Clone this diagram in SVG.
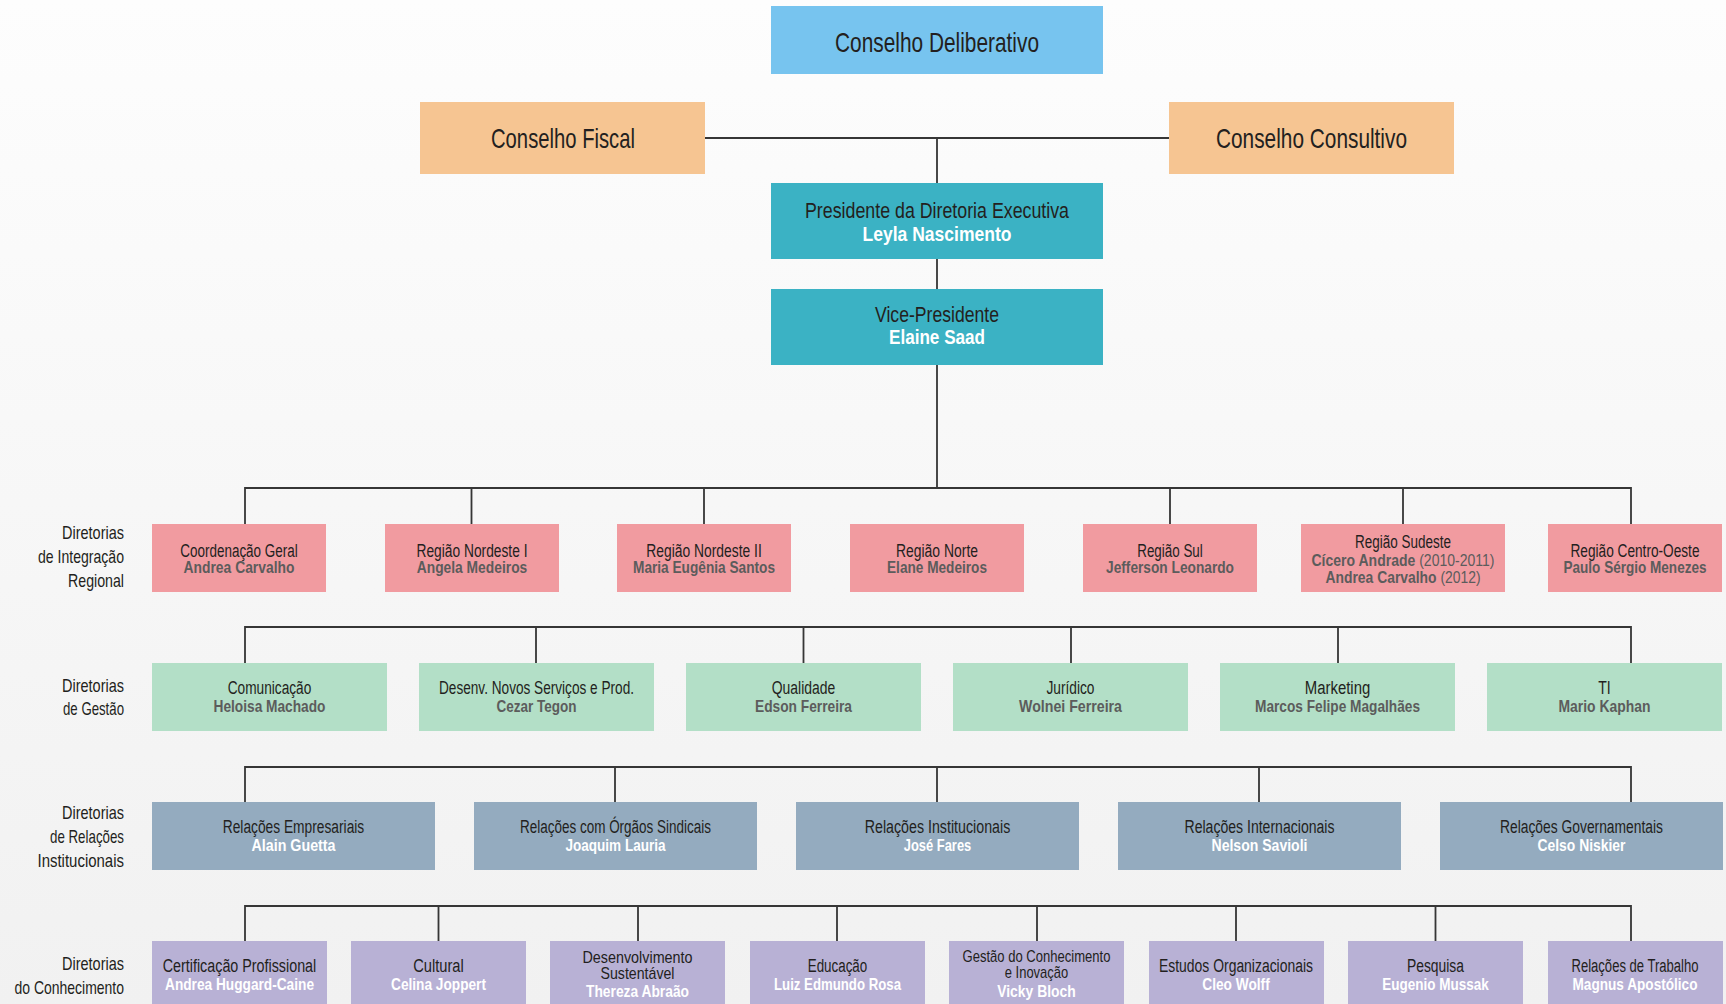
<svg xmlns="http://www.w3.org/2000/svg" width="1726" height="1004" viewBox="0 0 1726 1004">
<defs>
<linearGradient id="bg" x1="0" y1="0" x2="0" y2="1">
<stop offset="0" stop-color="#fdfdfd"/>
<stop offset="1" stop-color="#f1f1f1"/>
</linearGradient>
</defs>
<style>
text{font-family:"Liberation Sans",Arial,sans-serif;text-anchor:middle}
.t{font-size:18px;fill:#231f20}
.t3{font-size:17px;fill:#231f20}
.n{font-size:17px;font-weight:bold;fill:#5c5c5c}
.w{font-size:17px;font-weight:bold;fill:#ffffff}
.big{font-size:28.5px;fill:#231f20}
.pt{font-size:22.5px;fill:#231f20}
.pn{font-size:21px;font-weight:bold;fill:#ffffff}
.lab{font-size:18.5px;fill:#231f20;text-anchor:end}
.reg{font-weight:normal}
.c{stroke:#363636;stroke-width:1.8;fill:none}
.b0{fill:#77c4ef}.b1{fill:#f6c592}.b2{fill:#3bb2c4}
.r1{fill:#f19ba0}.r2{fill:#b3dfc7}.r3{fill:#94abbf}.r4{fill:#b8b1d5}
</style>
<rect x="0" y="0" width="1726" height="1004" fill="url(#bg)"/>

<g id="connectors" class="c">
<path d="M705 138H1169M937 138V183M937 259V289M937 365V488"/>
<path d="M245 524V488H1631V524M471.5 488V524M704 488V524M1170 488V524M1403 488V524"/>
<path d="M245 663V627H1631V663M536 627V663M803.5 627V663M1071 627V663M1338 627V663"/>
<path d="M245 802V767H1631V802M615 767V802M937 767V802M1259 767V802"/>
<path d="M245 941V906H1631V941M438.5 906V941M638 906V941M837 906V941M1037 906V941M1236 906V941M1435.5 906V941"/>
</g>

<g id="labels">
<text class="lab" x="124" y="539" textLength="62" lengthAdjust="spacingAndGlyphs">Diretorias</text>
<text class="lab" x="124" y="563" textLength="86" lengthAdjust="spacingAndGlyphs">de Integração</text>
<text class="lab" x="124" y="587" textLength="56" lengthAdjust="spacingAndGlyphs">Regional</text>
<text class="lab" x="124" y="692" textLength="62" lengthAdjust="spacingAndGlyphs">Diretorias</text>
<text class="lab" x="124" y="715" textLength="61" lengthAdjust="spacingAndGlyphs">de Gestão</text>
<text class="lab" x="124" y="819" textLength="62" lengthAdjust="spacingAndGlyphs">Diretorias</text>
<text class="lab" x="124" y="843" textLength="74" lengthAdjust="spacingAndGlyphs">de Relações</text>
<text class="lab" x="124" y="867" textLength="86.5" lengthAdjust="spacingAndGlyphs">Institucionais</text>
<text class="lab" x="124" y="970" textLength="62" lengthAdjust="spacingAndGlyphs">Diretorias</text>
<text class="lab" x="124" y="994" textLength="109.5" lengthAdjust="spacingAndGlyphs">do Conhecimento</text>
</g>

<g id="conselho-deliberativo">
<rect class="b0" x="771" y="6" width="332" height="68"/>
<text class="big" x="937" y="52" textLength="204" lengthAdjust="spacingAndGlyphs">Conselho Deliberativo</text>
</g>
<g id="conselho-fiscal">
<rect class="b1" x="420" y="102" width="285" height="72"/>
<text class="big" x="563" y="148" textLength="144" lengthAdjust="spacingAndGlyphs">Conselho Fiscal</text>
</g>
<g id="conselho-consultivo">
<rect class="b1" x="1169" y="102" width="285" height="72"/>
<text class="big" x="1311.5" y="148" textLength="191" lengthAdjust="spacingAndGlyphs">Conselho Consultivo</text>
</g>
<g id="presidente">
<rect class="b2" x="771" y="183" width="332" height="76"/>
<text class="pt" x="937" y="218" textLength="264" lengthAdjust="spacingAndGlyphs">Presidente da Diretoria Executiva</text>
<text class="pn" x="937" y="241" textLength="149" lengthAdjust="spacingAndGlyphs">Leyla Nascimento</text>
</g>
<g id="vice-presidente">
<rect class="b2" x="771" y="289" width="332" height="76"/>
<text class="pt" x="937" y="322" textLength="124" lengthAdjust="spacingAndGlyphs">Vice-Presidente</text>
<text class="pn" x="937" y="344" textLength="96" lengthAdjust="spacingAndGlyphs">Elaine Saad</text>
</g>

<g id="coordenacao-geral">
<rect class="r1" x="152" y="524" width="174" height="68"/>
<text class="t" x="239" y="557" textLength="117.5" lengthAdjust="spacingAndGlyphs">Coordenação Geral</text>
<text class="n" x="239" y="573" textLength="111" lengthAdjust="spacingAndGlyphs">Andrea Carvalho</text>
</g>
<g id="regiao-nordeste-1">
<rect class="r1" x="385" y="524" width="174" height="68"/>
<text class="t" x="472" y="557" textLength="111" lengthAdjust="spacingAndGlyphs">Região Nordeste I</text>
<text class="n" x="472" y="573" textLength="110.5" lengthAdjust="spacingAndGlyphs">Angela Medeiros</text>
</g>
<g id="regiao-nordeste-2">
<rect class="r1" x="617" y="524" width="174" height="68"/>
<text class="t" x="704" y="557" textLength="115.5" lengthAdjust="spacingAndGlyphs">Região Nordeste II</text>
<text class="n" x="704" y="573" textLength="142" lengthAdjust="spacingAndGlyphs">Maria Eugênia Santos</text>
</g>
<g id="regiao-norte">
<rect class="r1" x="850" y="524" width="174" height="68"/>
<text class="t" x="937" y="557" textLength="82" lengthAdjust="spacingAndGlyphs">Região Norte</text>
<text class="n" x="937" y="573" textLength="100" lengthAdjust="spacingAndGlyphs">Elane Medeiros</text>
</g>
<g id="regiao-sul">
<rect class="r1" x="1083" y="524" width="174" height="68"/>
<text class="t" x="1170" y="557" textLength="65.5" lengthAdjust="spacingAndGlyphs">Região Sul</text>
<text class="n" x="1170" y="573" textLength="128" lengthAdjust="spacingAndGlyphs">Jefferson Leonardo</text>
</g>
<g id="regiao-sudeste">
<rect class="r1" x="1301" y="524" width="204" height="68"/>
<text class="t" x="1403" y="548" textLength="96" lengthAdjust="spacingAndGlyphs">Região Sudeste</text>
<text class="n" x="1403" y="566" textLength="183" lengthAdjust="spacingAndGlyphs">Cícero Andrade <tspan class="reg">(2010-2011)</tspan></text>
<text class="n" x="1403" y="583" textLength="155" lengthAdjust="spacingAndGlyphs">Andrea Carvalho <tspan class="reg">(2012)</tspan></text>
</g>
<g id="regiao-centro-oeste">
<rect class="r1" x="1548" y="524" width="174" height="68"/>
<text class="t" x="1635" y="557" textLength="129" lengthAdjust="spacingAndGlyphs">Região Centro-Oeste</text>
<text class="n" x="1635" y="573" textLength="143" lengthAdjust="spacingAndGlyphs">Paulo Sérgio Menezes</text>
</g>

<g id="comunicacao">
<rect class="r2" x="152" y="663" width="235" height="68"/>
<text class="t" x="269.5" y="694" textLength="83.5" lengthAdjust="spacingAndGlyphs">Comunicação</text>
<text class="n" x="269.5" y="712" textLength="112" lengthAdjust="spacingAndGlyphs">Heloisa Machado</text>
</g>
<g id="desenv-novos-servicos">
<rect class="r2" x="419" y="663" width="235" height="68"/>
<text class="t" x="536.5" y="694" textLength="195" lengthAdjust="spacingAndGlyphs">Desenv. Novos Serviços e Prod.</text>
<text class="n" x="536.5" y="712" textLength="80" lengthAdjust="spacingAndGlyphs">Cezar Tegon</text>
</g>
<g id="qualidade">
<rect class="r2" x="686" y="663" width="235" height="68"/>
<text class="t" x="803.5" y="694" textLength="63.5" lengthAdjust="spacingAndGlyphs">Qualidade</text>
<text class="n" x="803.5" y="712" textLength="97" lengthAdjust="spacingAndGlyphs">Edson Ferreira</text>
</g>
<g id="juridico">
<rect class="r2" x="953" y="663" width="235" height="68"/>
<text class="t" x="1070.5" y="694" textLength="48" lengthAdjust="spacingAndGlyphs">Jurídico</text>
<text class="n" x="1070.5" y="712" textLength="103" lengthAdjust="spacingAndGlyphs">Wolnei Ferreira</text>
</g>
<g id="marketing">
<rect class="r2" x="1220" y="663" width="235" height="68"/>
<text class="t" x="1337.5" y="694" textLength="65.5" lengthAdjust="spacingAndGlyphs">Marketing</text>
<text class="n" x="1337.5" y="712" textLength="165" lengthAdjust="spacingAndGlyphs">Marcos Felipe Magalhães</text>
</g>
<g id="ti">
<rect class="r2" x="1487" y="663" width="235" height="68"/>
<text class="t" x="1604.5" y="694" textLength="12.5" lengthAdjust="spacingAndGlyphs">TI</text>
<text class="n" x="1604.5" y="712" textLength="92" lengthAdjust="spacingAndGlyphs">Mario Kaphan</text>
</g>

<g id="relacoes-empresariais">
<rect class="r3" x="152" y="802" width="283" height="68"/>
<text class="t" x="293.5" y="833" textLength="141.5" lengthAdjust="spacingAndGlyphs">Relações Empresariais</text>
<text class="w" x="293.5" y="851" textLength="84" lengthAdjust="spacingAndGlyphs">Alain Guetta</text>
</g>
<g id="relacoes-sindicais">
<rect class="r3" x="474" y="802" width="283" height="68"/>
<text class="t" x="615.5" y="833" textLength="191" lengthAdjust="spacingAndGlyphs">Relações com Órgãos Sindicais</text>
<text class="w" x="615.5" y="851" textLength="100" lengthAdjust="spacingAndGlyphs">Joaquim Lauria</text>
</g>
<g id="relacoes-institucionais">
<rect class="r3" x="796" y="802" width="283" height="68"/>
<text class="t" x="937.5" y="833" textLength="145.5" lengthAdjust="spacingAndGlyphs">Relações Institucionais</text>
<text class="w" x="937.5" y="851" textLength="67.5" lengthAdjust="spacingAndGlyphs">José Fares</text>
</g>
<g id="relacoes-internacionais">
<rect class="r3" x="1118" y="802" width="283" height="68"/>
<text class="t" x="1259.5" y="833" textLength="150" lengthAdjust="spacingAndGlyphs">Relações Internacionais</text>
<text class="w" x="1259.5" y="851" textLength="96" lengthAdjust="spacingAndGlyphs">Nelson Savioli</text>
</g>
<g id="relacoes-governamentais">
<rect class="r3" x="1440" y="802" width="283" height="68"/>
<text class="t" x="1581.5" y="833" textLength="163" lengthAdjust="spacingAndGlyphs">Relações Governamentais</text>
<text class="w" x="1581.5" y="851" textLength="88" lengthAdjust="spacingAndGlyphs">Celso Niskier</text>
</g>

<g id="certificacao-profissional">
<rect class="r4" x="152" y="941" width="175" height="70"/>
<text class="t" x="239.5" y="972" textLength="153.5" lengthAdjust="spacingAndGlyphs">Certificação Profissional</text>
<text class="w" x="239.5" y="990" textLength="149" lengthAdjust="spacingAndGlyphs">Andrea Huggard-Caine</text>
</g>
<g id="cultural">
<rect class="r4" x="351" y="941" width="175" height="70"/>
<text class="t" x="438.5" y="972" textLength="50.5" lengthAdjust="spacingAndGlyphs">Cultural</text>
<text class="w" x="438.5" y="990" textLength="95" lengthAdjust="spacingAndGlyphs">Celina Joppert</text>
</g>
<g id="desenvolvimento-sustentavel">
<rect class="r4" x="550" y="941" width="175" height="70"/>
<text class="t3" x="637.5" y="963" textLength="110" lengthAdjust="spacingAndGlyphs">Desenvolvimento</text>
<text class="t3" x="637.5" y="979" textLength="74" lengthAdjust="spacingAndGlyphs">Sustentável</text>
<text class="w" x="637.5" y="997" textLength="103" lengthAdjust="spacingAndGlyphs">Thereza Abraão</text>
</g>
<g id="educacao">
<rect class="r4" x="750" y="941" width="175" height="70"/>
<text class="t" x="837.5" y="972" textLength="59.5" lengthAdjust="spacingAndGlyphs">Educação</text>
<text class="w" x="837.5" y="990" textLength="127" lengthAdjust="spacingAndGlyphs">Luiz Edmundo Rosa</text>
</g>
<g id="gestao-conhecimento">
<rect class="r4" x="949" y="941" width="175" height="70"/>
<text class="t3" x="1036.5" y="962" textLength="148" lengthAdjust="spacingAndGlyphs">Gestão do Conhecimento</text>
<text class="t3" x="1036.5" y="978" textLength="63.5" lengthAdjust="spacingAndGlyphs">e Inovação</text>
<text class="w" x="1036.5" y="997" textLength="78.5" lengthAdjust="spacingAndGlyphs">Vicky Bloch</text>
</g>
<g id="estudos-organizacionais">
<rect class="r4" x="1149" y="941" width="175" height="70"/>
<text class="t" x="1236" y="972" textLength="154" lengthAdjust="spacingAndGlyphs">Estudos Organizacionais</text>
<text class="w" x="1236" y="990" textLength="67.5" lengthAdjust="spacingAndGlyphs">Cleo Wolff</text>
</g>
<g id="pesquisa">
<rect class="r4" x="1348" y="941" width="175" height="70"/>
<text class="t" x="1435.5" y="972" textLength="57" lengthAdjust="spacingAndGlyphs">Pesquisa</text>
<text class="w" x="1435.5" y="990" textLength="106.5" lengthAdjust="spacingAndGlyphs">Eugenio Mussak</text>
</g>
<g id="relacoes-trabalho">
<rect class="r4" x="1548" y="941" width="175" height="70"/>
<text class="t" x="1635" y="972" textLength="127" lengthAdjust="spacingAndGlyphs">Relações de Trabalho</text>
<text class="w" x="1635" y="990" textLength="125" lengthAdjust="spacingAndGlyphs">Magnus Apostólico</text>
</g>
</svg>
